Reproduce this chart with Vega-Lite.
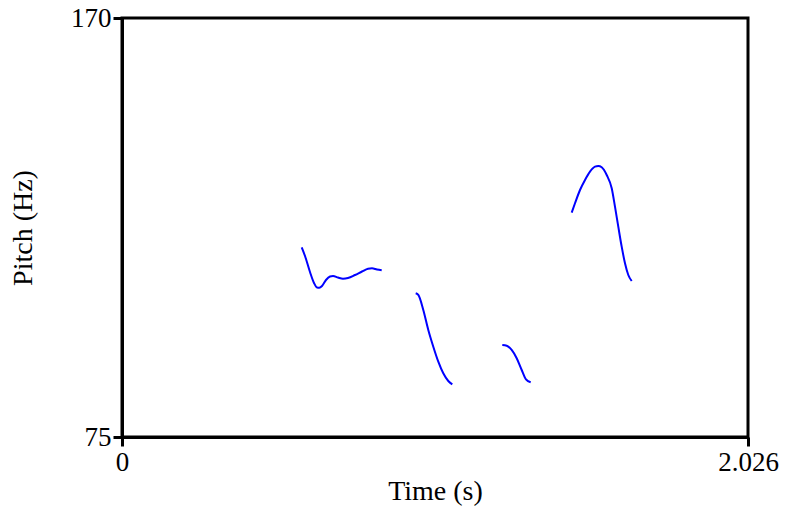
{
  "$schema": "https://vega.github.io/schema/vega-lite/v6.json",
  "width": 626,
  "height": 419,
  "autosize": "none",
  "padding": {"left": 122, "top": 18, "right": 37, "bottom": 76},
  "background": "white",
  "config": {
    "view": {"stroke": "black", "strokeWidth": 3},
    "font": "Liberation Serif",
    "axis": {
      "grid": false,
      "domainColor": "black",
      "domainWidth": 3,
      "tickColor": "black",
      "tickWidth": 3,
      "tickSize": 9,
      "labelFont": "Liberation Serif",
      "labelFontSize": 27,
      "labelColor": "black",
      "titleFont": "Liberation Serif",
      "titleFontSize": 28,
      "titleFontWeight": "normal",
      "titleColor": "black",
      "labelOverlap": false,
      "labelFlush": false,
      "labelBound": false
    }
  },
  "data": {
    "values": [
      {"seg": 1, "t": 0.5816, "f": 118.01},
      {"seg": 1, "t": 0.5923, "f": 116.04},
      {"seg": 1, "t": 0.6084, "f": 112.41},
      {"seg": 1, "t": 0.6214, "f": 109.92},
      {"seg": 1, "t": 0.6311, "f": 108.90},
      {"seg": 1, "t": 0.6385, "f": 108.85},
      {"seg": 1, "t": 0.6473, "f": 109.24},
      {"seg": 1, "t": 0.6602, "f": 110.60},
      {"seg": 1, "t": 0.6732, "f": 111.39},
      {"seg": 1, "t": 0.6829, "f": 111.50},
      {"seg": 1, "t": 0.6991, "f": 111.16},
      {"seg": 1, "t": 0.7152, "f": 110.89},
      {"seg": 1, "t": 0.7314, "f": 111.05},
      {"seg": 1, "t": 0.7541, "f": 111.73},
      {"seg": 1, "t": 0.7767, "f": 112.52},
      {"seg": 1, "t": 0.7962, "f": 113.16},
      {"seg": 1, "t": 0.8091, "f": 113.25},
      {"seg": 1, "t": 0.8253, "f": 112.98},
      {"seg": 1, "t": 0.8405, "f": 112.80},
      {"seg": 2, "t": 0.9505, "f": 107.58},
      {"seg": 2, "t": 0.9590, "f": 107.20},
      {"seg": 2, "t": 0.9751, "f": 103.79},
      {"seg": 2, "t": 0.9913, "f": 99.26},
      {"seg": 2, "t": 1.0075, "f": 95.47},
      {"seg": 2, "t": 1.0237, "f": 92.07},
      {"seg": 2, "t": 1.0398, "f": 89.44},
      {"seg": 2, "t": 1.0560, "f": 87.70},
      {"seg": 2, "t": 1.0690, "f": 86.95},
      {"seg": 3, "t": 1.2308, "f": 95.86},
      {"seg": 3, "t": 1.2451, "f": 95.70},
      {"seg": 3, "t": 1.2612, "f": 94.73},
      {"seg": 3, "t": 1.2774, "f": 92.84},
      {"seg": 3, "t": 1.2936, "f": 90.19},
      {"seg": 3, "t": 1.3075, "f": 88.08},
      {"seg": 3, "t": 1.3227, "f": 87.40},
      {"seg": 4, "t": 1.4554, "f": 125.86},
      {"seg": 4, "t": 1.4661, "f": 127.99},
      {"seg": 4, "t": 1.4823, "f": 131.00},
      {"seg": 4, "t": 1.4985, "f": 133.27},
      {"seg": 4, "t": 1.5146, "f": 135.15},
      {"seg": 4, "t": 1.5308, "f": 136.29},
      {"seg": 4, "t": 1.5415, "f": 136.44},
      {"seg": 4, "t": 1.5525, "f": 136.15},
      {"seg": 4, "t": 1.5687, "f": 134.40},
      {"seg": 4, "t": 1.5849, "f": 131.39},
      {"seg": 4, "t": 1.5955, "f": 127.22},
      {"seg": 4, "t": 1.6062, "f": 122.68},
      {"seg": 4, "t": 1.6172, "f": 118.15},
      {"seg": 4, "t": 1.6279, "f": 114.38},
      {"seg": 4, "t": 1.6386, "f": 111.73},
      {"seg": 4, "t": 1.6496, "f": 110.37}
    ]
  },
  "mark": {"type": "line", "color": "#0000ff", "strokeWidth": 2, "interpolate": "monotone"},
  "encoding": {
    "x": {
      "field": "t",
      "type": "quantitative",
      "scale": {"domain": [0, 2.026], "nice": false, "zero": false},
      "axis": {
        "title": "Time (s)",
        "values": [0, 2.026],
        "labelExpr": "datum.value == 0 ? '0' : '2.026'",
        "labelPadding": 3,
        "titlePadding": 2
      }
    },
    "y": {
      "field": "f",
      "type": "quantitative",
      "scale": {"domain": [75, 170], "nice": false, "zero": false},
      "axis": {
        "title": "Pitch (Hz)",
        "values": [75, 170],
        "labelPadding": 2,
        "titlePadding": 33
      }
    },
    "detail": {"field": "seg", "type": "nominal"}
  }
}
